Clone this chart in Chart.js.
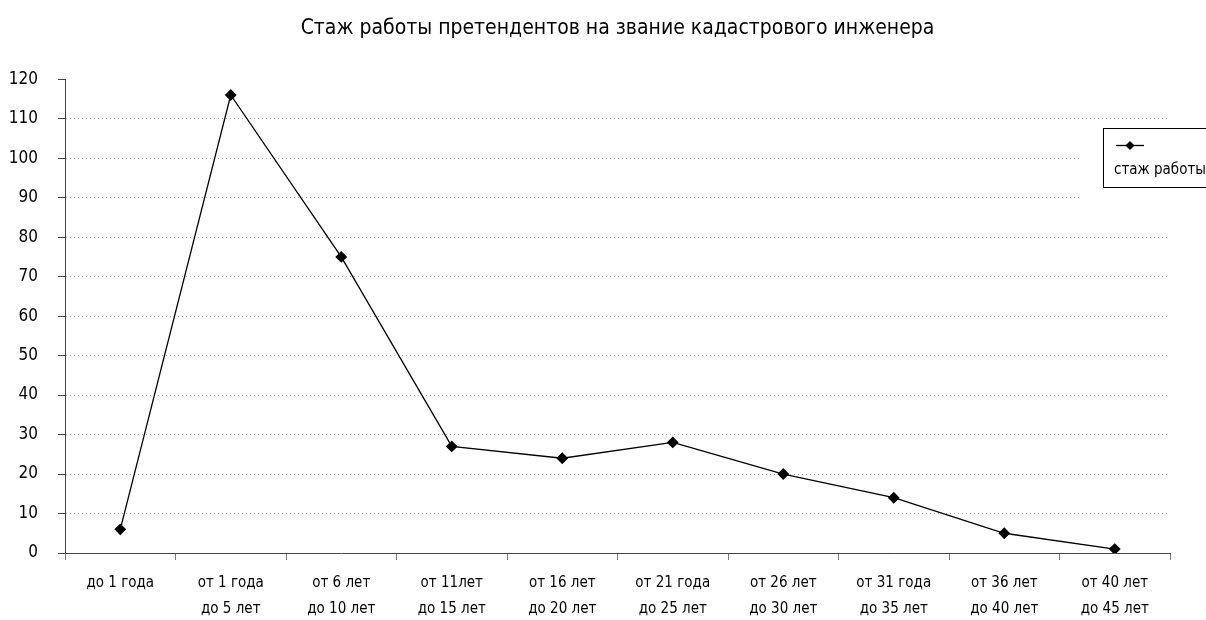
<!DOCTYPE html>
<html>
<head>
<meta charset="utf-8">
<script src="https://cdn.jsdelivr.net/npm/chart.js@4"></script>
<style>
  html, body { margin: 0; padding: 0; background: #fff; }
  #wrap { width: 1206px; height: 620px; }
</style>
</head>
<body>
<div id="wrap"><canvas id="stazhChart" width="1206" height="620"></canvas></div>
<script>
    // подписи категорий (ось X)
    var categories = [
        ['до 1 года'],
        ['от 1 года', 'до 5 лет'],
        ['от 6 лет', 'до 10 лет'],
        ['от 11лет', 'до 15 лет'],
        ['от 16 лет', 'до 20 лет'],
        ['от 21 года', 'до 25 лет'],
        ['от 26 лет', 'до 30 лет'],
        ['от 31 года', 'до 35 лет'],
        ['от 36 лет', 'до 40 лет'],
        ['от 40 лет', 'до 45 лет']
    ];
    // значения ряда
    var stazhValues = [6, 116, 75, 27, 24, 28, 20, 14, 5, 1];
    var seriesLabel = 'стаж работы';
    var chartTitle = 'Стаж работы претендентов на звание кадастрового инженера';
    var yMin = 0, yMax = 120, yStep = 10;

    var fontFamily = "'Liberation Sans Narrow', 'DejaVu Sans Condensed', 'Roboto', sans-serif";

    // легенда в рамке справа (маркер над подписью)
    var boxLegend = {
        id: 'boxLegend',
        afterDraw: function (chart) {
            var ctx = chart.ctx;
            var ds = chart.data.datasets[0];
            ctx.save();
            // белая подложка, перекрывающая сетку
            ctx.fillStyle = '#fff';
            ctx.fillRect(1079, 128, 127, 80);
            ctx.strokeStyle = '#000';
            ctx.lineWidth = 1;
            ctx.strokeRect(1103.5, 128.5, 110, 59);
            // линия с маркером
            ctx.lineWidth = 1.3;
            ctx.beginPath();
            ctx.moveTo(1116, 145.5);
            ctx.lineTo(1144, 145.5);
            ctx.stroke();
            ctx.fillStyle = '#000';
            ctx.beginPath();
            ctx.moveTo(1130, 141);
            ctx.lineTo(1134.5, 145.5);
            ctx.lineTo(1130, 150);
            ctx.lineTo(1125.5, 145.5);
            ctx.closePath();
            ctx.fill();
            ctx.font = '15px ' + fontFamily;
            ctx.textBaseline = 'middle';
            ctx.textAlign = 'left';
            ctx.fillText(ds.label, 1114, 170);
            ctx.restore();
        }
    };

    var ctx = document.getElementById('stazhChart').getContext('2d');
    var stazhChart = new Chart(ctx, {
        type: 'line',
        data: {
            labels: categories,
            datasets: [{
                label: seriesLabel,
                data: stazhValues,
                borderColor: '#000',
                backgroundColor: '#000',
                borderWidth: 1.3,
                pointStyle: 'rectRot',
                pointRadius: 5,
                pointHoverRadius: 5,
                tension: 0
            }]
        },
        options: {
            responsive: false,
            animation: false,
            events: [],
            layout: { padding: { left: 0, right: 36, top: 0, bottom: 0 } },
            plugins: {
                legend: { display: false },
                tooltip: { enabled: false },
                title: {
                    display: true,
                    fullSize: false, // центр заголовка по области графика
                    text: chartTitle,
                    color: '#000',
                    font: { family: fontFamily, size: 21, weight: 'normal', lineHeight: 1.2 },
                    padding: { top: 16, bottom: 38 }
                }
            },
            scales: {
                x: {
                    offset: true,
                    grid: {
                        display: true,
                        drawOnChartArea: false,
                        offset: true,
                        tickLength: 7,
                        tickColor: '#777'
                    },
                    border: { color: '#444', width: 1 },
                    ticks: {
                        color: '#000',
                        padding: 10,
                        maxRotation: 0,
                        autoSkip: false,
                        font: { family: fontFamily, size: 15, lineHeight: 1.73 }
                    },
                    afterFit: function (scale) { scale.height = 67; }
                },
                y: {
                    min: yMin,
                    max: yMax,
                    grid: {
                        color: function (c) {
                            return c.tick && c.tick.value === yMax ? 'rgba(0,0,0,0)' : '#aaa';
                        },
                        tickLength: 7,
                        tickColor: '#444',
                        tickBorderDash: []
                    },
                    border: { color: '#444', width: 1, dash: [1, 3] },
                    ticks: {
                        stepSize: yStep,
                        color: '#000',
                        padding: 20,
                        font: { family: fontFamily, size: 17 }
                    },
                    afterFit: function (scale) { scale.width = 65; }
                }
            }
        },
        plugins: [boxLegend]
    });
</script>
</body>
</html>
